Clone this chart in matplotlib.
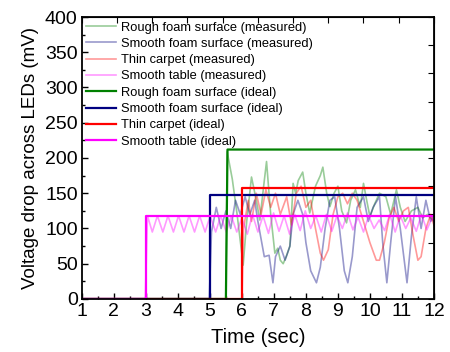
import matplotlib.pyplot as plt
import numpy as np

plt.rcParams['font.family'] = ['Liberation Sans', 'DejaVu Sans']

# measured traces
rough_t = [1, 5.5, 5.54, 5.7, 5.85, 6.04, 6.15, 6.3, 6.45, 6.56, 6.68, 6.77, 6.9, 7.03, 7.12, 7.2, 7.29, 7.4, 7.5, 7.6, 7.68,
           7.76, 7.9, 8.0, 8.12, 8.3, 8.45, 8.53, 8.65, 8.75, 8.88, 9.0, 9.12, 9.27, 9.4, 9.55, 9.7, 9.8, 9.9, 10.0, 10.15,
           10.3, 10.5, 10.65, 10.83, 10.95, 11.1, 11.3, 11.5, 11.65, 11.8, 12.0]
rough_v = [0, 0, 209, 170, 120, 48, 110, 173, 140, 112, 160, 195, 120, 65, 72, 55, 50, 62, 75, 164, 150,
           168, 180, 150, 122, 160, 175, 187, 150, 131, 150, 160, 125, 108, 140, 155, 130, 164, 140, 117, 135,
           150, 145, 120, 155, 130, 110, 125, 130, 115, 120, 110]
smooth_t = [1, 4.98, 5.05, 5.2, 5.35, 5.5, 5.65, 5.8, 5.95, 6.1, 6.25, 6.4, 6.5, 6.6, 6.7, 6.85, 6.97, 7.05, 7.2, 7.35, 7.5,
            7.6, 7.75, 7.9, 8.0, 8.15, 8.33, 8.45, 8.6, 8.75, 8.9, 9.05, 9.2, 9.31, 9.45, 9.6, 9.8, 9.95, 10.1, 10.3,
            10.4, 10.53, 10.65, 10.8, 10.95, 11.16, 11.3, 11.45, 11.6, 11.75, 11.9, 12.0]
smooth_v = [0, 0, 95, 130, 100, 125, 100, 140, 120, 145, 120, 140, 110, 85, 60, 62, 23, 60, 75, 55, 75,
            120, 140, 120, 80, 40, 23, 45, 100, 140, 145, 100, 40, 23, 60, 130, 145, 110, 130, 145,
            80, 23, 80, 145, 100, 23, 90, 145, 100, 140, 110, 120]
carpet_t = [1, 6.0, 6.05, 6.2, 6.3, 6.45, 6.6, 6.75, 6.9, 7.05, 7.2, 7.4, 7.55, 7.7, 7.85, 8.0, 8.15, 8.3, 8.45, 8.55, 8.7,
            8.85, 9.0, 9.15, 9.3, 9.45, 9.6, 9.8, 10.0, 10.2, 10.3, 10.45, 10.6, 10.75, 10.9, 11.05, 11.2, 11.35, 11.5,
            11.6, 11.75, 11.9, 12.0]
carpet_v = [0, 0, 100, 140, 110, 150, 120, 155, 130, 150, 120, 145, 105, 150, 160, 130, 140, 100, 65, 55, 70,
            120, 145, 150, 135, 150, 140, 110, 80, 55, 55, 80, 115, 130, 110, 125, 130, 90, 55,
            60, 100, 120, 105]
table_t = [1, 2.98, 3.05, 3.2, 3.36, 3.53, 3.69, 3.86, 4.02, 4.19, 4.35, 4.52, 4.68, 4.85, 5.01, 5.18, 5.34, 5.51, 5.67,
           5.84, 6.0, 6.17, 6.33, 6.5, 6.66, 6.83, 6.99, 7.16, 7.32, 7.49, 7.65, 7.82, 7.98, 8.15, 8.31, 8.48, 8.64,
           8.81, 8.97, 9.14, 9.3, 9.47, 9.63, 9.8, 9.96, 10.13, 10.29, 10.46, 10.62, 10.79, 10.95, 11.12, 11.28,
           11.45, 11.61, 11.78, 11.94, 12.0]
table_v = [0, 0, 118, 95, 118, 95, 118, 95, 118, 95, 118, 95, 118, 95, 118, 95, 118, 95, 118,
           95, 115, 92, 120, 95, 118, 93, 122, 96, 118, 92, 120, 97, 125, 100, 118, 95, 120,
           96, 118, 100, 122, 98, 116, 95, 118, 100, 112, 97, 120, 95, 118, 100, 115,
           96, 120, 98, 115, 110]

# ideal step levels
rough_step, rough_level = 5.5, 212
smooth_step, smooth_level = 5.0, 147
carpet_step, carpet_level = 6.0, 157
table_step, table_level = 3.0, 118

fig = plt.figure(figsize=(4.5, 3.52), dpi=100)
ax = fig.add_axes([0.182, 0.1506, 0.7822, 0.8011])

ax.plot(rough_t, rough_v, color='#008000', alpha=0.4, lw=1.2, label='Rough foam surface (measured)')
ax.plot(smooth_t, smooth_v, color='#000080', alpha=0.4, lw=1.2, label='Smooth foam surface (measured)')
ax.plot(carpet_t, carpet_v, color='#ff0000', alpha=0.4, lw=1.2, label='Thin carpet (measured)')
ax.plot(table_t, table_v, color='#ff00ff', alpha=0.4, lw=1.2, label='Smooth table (measured)')

ax.plot([1, rough_step, rough_step + 0.05, 12], [0, 0, rough_level, rough_level],
        color='#008000', lw=1.6, label='Rough foam surface (ideal)')
ax.plot([1, smooth_step, smooth_step, 12], [0, 0, smooth_level, smooth_level],
        color='#000080', lw=1.6, label='Smooth foam surface (ideal)')
ax.plot([1, carpet_step, carpet_step, 12], [0, 0, carpet_level, carpet_level],
        color='#ff0000', lw=1.6, label='Thin carpet (ideal)')
ax.plot([1, table_step, table_step, 12], [0, 0, table_level, table_level],
        color='#ff00ff', lw=1.6, label='Smooth table (ideal)')

ax.set_xlim(1, 12)
ax.set_ylim(0, 400)
ax.set_xticks(range(1, 13))
ax.set_yticks(range(0, 401, 50))
ax.set_xticks(np.arange(1.5, 12, 1), minor=True)
ax.set_yticks(np.arange(25, 400, 50), minor=True)
ax.tick_params(direction='in', labelsize=14, length=4, width=1, pad=3)
ax.tick_params(which='minor', direction='in', length=2.5, width=1)

# secondary top/right ticks like the original (10 divisions)
tx = ax.secondary_xaxis('top')
tx.set_xticks(np.linspace(1, 12, 11))
tx.tick_params(direction='in', length=4, labeltop=False)
ty = ax.secondary_yaxis('right')
ty.set_yticks(np.linspace(0, 400, 11))
ty.tick_params(direction='in', length=4, labelright=False)

for s in ax.spines.values():
    s.set_linewidth(1.3)

ax.set_xlabel('Time (sec)', fontsize=14.5, labelpad=6)
ax.set_ylabel('Voltage drop across LEDs (mV)', fontsize=13.5, labelpad=4)

ax.legend(loc='upper left', frameon=False, fontsize=9.3, handlelength=2.3,
          labelspacing=0.33, borderaxespad=0.25, borderpad=0.1, handletextpad=0.35)

fig.savefig('out.png', dpi=100)
